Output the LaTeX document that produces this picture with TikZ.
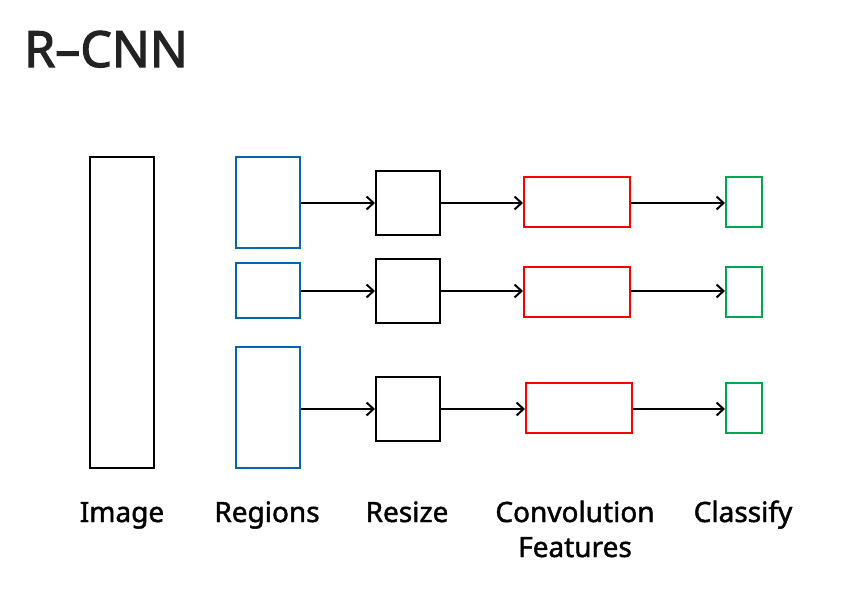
\documentclass[tikz,border=0pt]{standalone}
\usepackage{fontspec}
\setmainfont{Noto Sans}
\newfontface\lblface{Noto Sans}[FakeBold=1.6]
\newfontface\titleface{Noto Sans}[FakeBold=2.2]
\usetikzlibrary{arrows.meta}
\begin{document}
\begin{tikzpicture}[x=1pt,y=-1pt,
  bx/.style={draw, line width=2pt, minimum width=0pt, minimum height=0pt, inner sep=0pt},
  lbl/.style={font=\lblface\fontsize{28}{35}\selectfont, text=black, align=center, inner sep=0pt},
  arr/.style={-{Straight Barb[length=7pt,width=13pt,line width=2pt]}, line width=2pt}]
\definecolor{rblue}{RGB}{5,99,179}
\definecolor{rred}{RGB}{255,0,0}
\definecolor{rgreen}{RGB}{0,166,80}
\useasboundingbox (0,0) rectangle (846,594);
% title
\node[anchor=base west, inner sep=0pt, font=\titleface\fontsize{50}{60}\selectfont, text={rgb,255:red,34;green,34;blue,34}] (title) at (24,67) {R–CNN};
% image
\node[bx, minimum width=64pt, minimum height=311pt] (img) at (122,312.5) {};
% regions
\node[bx, draw=rblue, minimum width=64pt, minimum height=91pt] (reg1) at (268,202.5) {};
\node[bx, draw=rblue, minimum width=64pt, minimum height=55pt] (reg2) at (268,290.5) {};
\node[bx, draw=rblue, minimum width=64pt, minimum height=121pt] (reg3) at (268,407.5) {};
\node[bx, minimum width=64pt, minimum height=64pt] (rs1) at (408,203) {};
\node[bx, minimum width=64pt, minimum height=64pt] (rs2) at (408,291) {};
\node[bx, minimum width=64pt, minimum height=64pt] (rs3) at (408,409) {};
\node[bx, draw=rred, minimum width=106pt, minimum height=50pt] (cv1) at (577,202) {};
\node[bx, draw=rred, minimum width=106pt, minimum height=50pt] (cv2) at (577,292) {};
\node[bx, draw=rred, minimum width=106pt, minimum height=50pt] (cv3) at (579,408) {};
\node[bx, draw=rgreen, minimum width=36pt, minimum height=50pt] (cl1) at (744,202) {};
\node[bx, draw=rgreen, minimum width=36pt, minimum height=50pt] (cl2) at (744,292) {};
\node[bx, draw=rgreen, minimum width=36pt, minimum height=50pt] (cl3) at (744,408) {};
% arrows
\draw[arr] (reg1.east |- 0,203) -- (rs1.west |- 0,203);
\draw[arr] (rs1.east |- 0,203) -- (cv1.west |- 0,203);
\draw[arr] (cv1.east |- 0,203) -- (cl1.west |- 0,203);
\draw[arr] (reg2.east |- 0,291) -- (rs2.west |- 0,291);
\draw[arr] (rs2.east |- 0,291) -- (cv2.west |- 0,291);
\draw[arr] (cv2.east |- 0,291) -- (cl2.west |- 0,291);
\draw[arr] (reg3.east |- 0,409) -- (rs3.west |- 0,409);
\draw[arr] (rs3.east |- 0,409) -- (cv3.west |- 0,409);
\draw[arr] (cv3.east |- 0,409) -- (cl3.west |- 0,409);
% labels
\node[lbl, anchor=base] (limg) at (122,522) {Image};
\node[lbl, anchor=base] (lreg) at (267,522) {Regions};
\node[lbl, anchor=base] (lrs) at (407,522) {Resize};
\node[lbl, anchor=base] (lcv) at (575,522) {Convolution};
\node[lbl, anchor=base] (lcv2) at (575,557) {Features};
\node[lbl, anchor=base] (lcl) at (743,522) {Classify};
\end{tikzpicture}
\end{document}
